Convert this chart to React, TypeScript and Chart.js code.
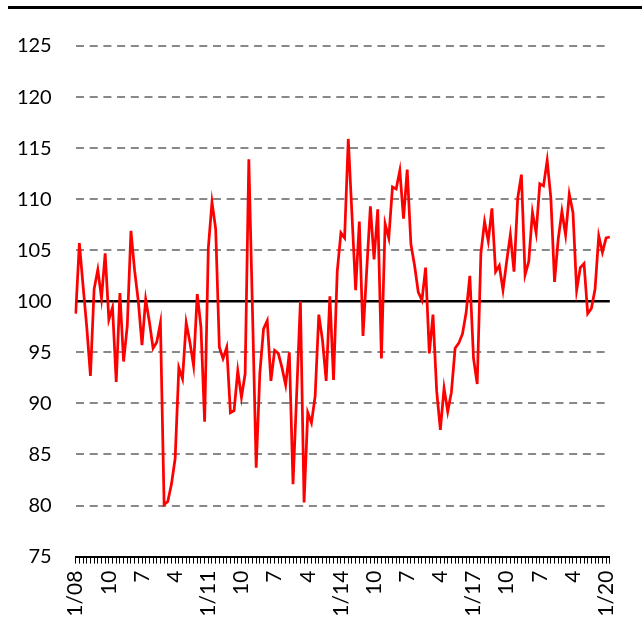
import { useEffect, useRef } from "react";
import { Chart, registerables } from "chart.js";

Chart.register(...registerables);

// Monthly categories: Jan 2008 .. Feb 2020
const START_YEAR = 2008;
const MONTH_COUNT = 146;
const CATEGORIES: string[] = [];
for (let i = 0; i < MONTH_COUNT; i++) {
  const y = START_YEAR + Math.floor(i / 12);
  const m = (i % 12) + 1;
  CATEGORIES.push(`${y}-${String(m).padStart(2, "0")}`);
}

// Labels shown every 9 months
const TICK_EVERY = 9;
const TICK_LABELS = [
  "1/08", "10", "7", "4", "1/11", "10", "7", "4", "1/14",
  "10", "7", "4", "1/17", "10", "7", "4", "1/20",
];

const VALUES = [
  98.8, 105.7, 101.5, 97.5, 92.7, 101.2, 103.1, 100.3, 104.7, 98.2,
  99.4, 92.1, 100.8, 94.1, 97.6, 106.9, 103.0, 100.0, 95.7, 100.2,
  98.0, 95.4, 96.0, 97.9, 80.1, 80.4, 82.1, 84.6, 93.5, 92.4,
  97.9, 96.0, 93.7, 100.7, 97.5, 88.2, 105.2, 109.7, 107.1, 95.5,
  94.4, 95.5, 89.1, 89.3, 93.2, 90.6, 92.9, 113.9, 99.0, 83.7,
  93.0, 97.3, 98.1, 92.2, 95.2, 94.9, 93.5, 91.8, 95.0, 82.1,
  91.0, 100.0, 80.3, 89.1, 88.1, 90.7, 98.7, 96.2, 92.2, 100.5,
  92.3, 102.9, 106.7, 106.2, 115.9, 108.5, 101.1, 107.8, 96.6, 103.0,
  109.3, 104.1, 109.0, 94.4, 107.6, 106.2, 111.2, 111.0, 112.8, 108.1,
  112.9, 105.6, 103.5, 100.9, 100.1, 103.3, 94.9, 98.7, 91.2, 87.4,
  91.5, 89.2, 91.1, 95.4, 95.9, 96.8, 98.9, 102.5, 94.4, 91.9,
  104.7, 107.8, 105.9, 109.1, 102.9, 103.5, 101.1, 103.9, 106.5, 102.9,
  110.1, 112.4, 102.6, 103.9, 108.7, 106.7, 111.5, 111.3, 113.8, 110.1,
  101.9, 106.1, 108.8, 106.5, 110.5, 108.7, 101.1, 103.3, 103.7, 98.8,
  99.3, 101.2, 106.4, 104.8, 106.2, 106.3,
];

const BASELINE = 100;
const Y_MIN = 75;
const Y_MAX = 125;
const Y_STEP = 5;

const FONT_FAMILY = "Lato, 'Open Sans', sans-serif";

export default function App() {
  const canvasRef = useRef<HTMLCanvasElement | null>(null);

  useEffect(() => {
    const canvas = canvasRef.current;
    if (!canvas) return;
    const chart = new Chart(canvas, {
      type: "line",
      data: {
        labels: CATEGORIES,
        datasets: [
          {
            data: VALUES,
            borderColor: "#FF0000",
            borderWidth: 2.75,
            pointRadius: 0,
            tension: 0,
            fill: false,
          },
        ],
      },
      options: {
        responsive: false,
        animation: false,
        devicePixelRatio: 1,
        layout: { padding: { top: 46, right: 31.3, left: 0, bottom: 0 } },
        plugins: {
          legend: { display: false },
          tooltip: { enabled: false },
          title: { display: false },
        },
        scales: {
          x: {
            type: "category",
            offset: false,
            afterFit: (scale: any) => {
              scale.height = 62.4;
            },
            grid: {
              display: true,
              drawOnChartArea: false,
              drawTicks: true,
              tickLength: 7,
              tickColor: "#000000",
              tickWidth: 1,
            },
            border: { display: true, color: "#000000", width: 2 },
            ticks: {
              autoSkip: false,
              maxRotation: 90,
              minRotation: 90,
              padding: 7,
              color: "#000000",
              font: { family: FONT_FAMILY, size: 21 },
              callback: (_v: any, index: number) =>
                index % TICK_EVERY === 0 ? TICK_LABELS[index / TICK_EVERY] ?? "" : "",
            },
          },
          y: {
            min: Y_MIN,
            max: Y_MAX,
            afterFit: (scale: any) => {
              scale.width = 75.7;
            },
            grid: {
              drawTicks: false,
              color: (ctx: any) =>
                ctx.tick && (ctx.tick.value === BASELINE || ctx.tick.value === Y_MIN)
                  ? "#000000"
                  : "#888888",
              lineWidth: (ctx: any) =>
                ctx.tick && ctx.tick.value === BASELINE ? 2.5 : 2,
            },
            border: {
              display: false,
              dash: (ctx: any) =>
                ctx.tick && (ctx.tick.value === BASELINE || ctx.tick.value === Y_MIN)
                  ? []
                  : [8, 5.7],
            },
            ticks: {
              stepSize: Y_STEP,
              padding: 24,
              color: "#000000",
              font: { family: FONT_FAMILY, size: 20 },
            },
          },
        },
      },
    });
    return () => chart.destroy();
  }, []);

  return (
    <div
      style={{
        position: "fixed",
        left: 0,
        top: 0,
        width: 642,
        height: 619,
        background: "#ffffff",
        overflow: "hidden",
      }}
    >
      <div
        style={{
          position: "absolute",
          left: 8,
          top: 6,
          width: 634,
          height: 2.5,
          background: "#000000",
        }}
      />
      <canvas
        ref={canvasRef}
        width={642}
        height={619}
        style={{ position: "absolute", left: 0, top: 0, width: 642, height: 619 }}
      />
    </div>
  );
}
